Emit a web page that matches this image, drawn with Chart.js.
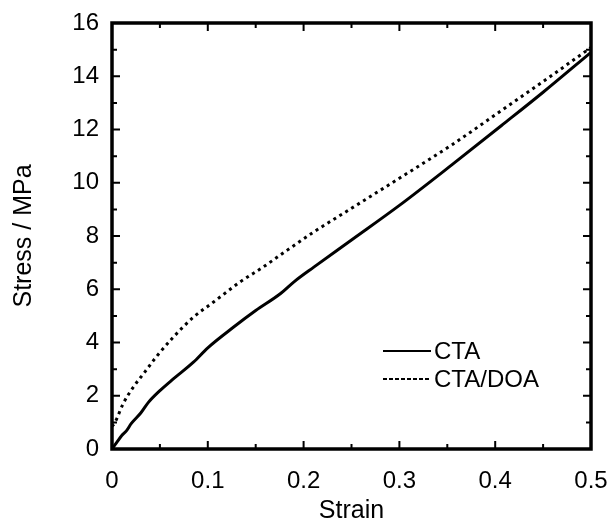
<!DOCTYPE html>
<html>
<head>
<meta charset="utf-8">
<script src="https://cdn.jsdelivr.net/npm/chart.js"></script>
<style>
  html, body { margin: 0; padding: 0; background: #fff; }
  #plot { display: block; }
</style>
</head>
<body>
<canvas id="plot" width="613" height="526"></canvas>
<script>
// stress-strain readings
var ctaStrain = [0, 0.005, 0.01, 0.015, 0.02, 0.03, 0.038, 0.05, 0.064, 0.085, 0.10, 0.127, 0.15, 0.176, 0.19, 0.211, 0.25, 0.30, 0.355, 0.408, 0.45, 0.5];
var ctaStress = [0, 0.25, 0.5, 0.68, 0.95, 1.35, 1.75, 2.19, 2.63, 3.26, 3.8, 4.58, 5.2, 5.84, 6.28, 6.84, 7.85, 9.15, 10.68, 12.19, 13.4, 14.9];

var doaStrain = [0, 0.003, 0.0115, 0.022, 0.034, 0.046, 0.064, 0.085, 0.106, 0.134, 0.158, 0.183, 0.211, 0.25, 0.30, 0.355, 0.408, 0.45, 0.5];
var doaStress = [0.85, 0.99, 1.69, 2.31, 2.88, 3.45, 4.2, 4.95, 5.52, 6.28, 6.84, 7.47, 8.16, 9.04, 10.17, 11.43, 12.75, 13.8, 15.08];

var seriesNames = ['CTA', 'CTA/DOA'];
var xTicks = [0, 0.1, 0.2, 0.3, 0.4, 0.5];
var yTicks = [0, 2, 4, 6, 8, 10, 12, 14, 16];

function toPoints(xs, ys) {
    return xs.map(function (v, i) { return { x: v, y: ys[i] }; });
}

var FONT = 'Liberation Sans, Arial, sans-serif';

// box frame, inward ticks on all four sides and the in-plot legend
var frameTicks = {
    id: 'frameTicks',
    afterDatasetsDraw: function (chart) {
        var ctx = chart.ctx;
        var a = chart.chartArea;
        var sx = chart.scales.x, sy = chart.scales.y;
        ctx.save();
        ctx.strokeStyle = '#000';
        ctx.lineWidth = 2;
        ctx.beginPath();

        function xTick(v, len) {
            var p = sx.getPixelForValue(v);
            ctx.moveTo(p, a.bottom); ctx.lineTo(p, a.bottom - len);
            ctx.moveTo(p, a.top); ctx.lineTo(p, a.top + len);
        }
        function yTick(v, len) {
            var p = sy.getPixelForValue(v);
            ctx.moveTo(a.left, p); ctx.lineTo(a.left + len, p);
            ctx.moveTo(a.right, p); ctx.lineTo(a.right - len, p);
        }
        xTicks.forEach(function (v, i) {
            xTick(v, 8);
            if (i > 0) xTick((v + xTicks[i - 1]) / 2, 5);
        });
        yTicks.forEach(function (v, i) {
            yTick(v, 8);
            if (i > 0) yTick((v + yTicks[i - 1]) / 2, 5);
        });
        ctx.stroke();

        ctx.lineWidth = 3.5;
        ctx.strokeRect(a.left, a.top, a.right - a.left, a.bottom - a.top);

        // legend
        var lx0 = 383, lx1 = 431, rows = [351, 379];
        ctx.font = '24px ' + FONT;
        ctx.fillStyle = '#000';
        ctx.textBaseline = 'middle';
        chart.data.datasets.forEach(function (ds, i) {
            ctx.beginPath();
            ctx.lineWidth = 2;
            ctx.setLineDash(i === 0 ? [] : [4, 2]);
            ctx.moveTo(lx0, rows[i]);
            ctx.lineTo(lx1, rows[i]);
            ctx.stroke();
            ctx.setLineDash([]);
            ctx.fillText(ds.label, 434, rows[i] + 1);
        });
        ctx.restore();
    }
};

var chart = new Chart(document.getElementById('plot').getContext('2d'), {
    type: 'line',
    data: {
        datasets: [{
            label: seriesNames[0],
            data: toPoints(ctaStrain, ctaStress),
            borderColor: '#000',
            borderWidth: 3,
            pointRadius: 0,
            cubicInterpolationMode: 'monotone'
        }, {
            label: seriesNames[1],
            data: toPoints(doaStrain, doaStress),
            borderColor: '#000',
            borderWidth: 3,
            borderDash: [3, 4],
            pointRadius: 0,
            cubicInterpolationMode: 'monotone'
        }]
    },
    options: {
        responsive: false,
        animation: false,
        layout: {
            padding: { top: 23, right: 22, bottom: 0, left: 0 }
        },
        plugins: {
            legend: { display: false },
            tooltip: { enabled: false }
        },
        scales: {
            x: {
                type: 'linear',
                min: 0,
                max: 0.5,
                grid: { display: false, drawTicks: false },
                border: { display: false },
                afterBuildTicks: function (scale) {
                    scale.ticks = xTicks.map(function (v) { return { value: v }; });
                },
                afterFit: function (scale) {
                    scale.height = 77;
                    scale.paddingLeft = 0;
                    scale.paddingRight = 0;
                },
                ticks: {
                    color: '#000',
                    padding: 18,
                    maxRotation: 0,
                    font: { family: FONT, size: 24 }
                },
                title: {
                    display: true,
                    text: 'Strain',
                    color: '#000',
                    padding: { top: 0, bottom: 0 },
                    font: { family: FONT, size: 25 }
                }
            },
            y: {
                type: 'linear',
                min: 0,
                max: 16,
                grid: { display: false, drawTicks: false },
                border: { display: false },
                afterBuildTicks: function (scale) {
                    scale.ticks = yTicks.map(function (v) { return { value: v }; });
                },
                afterFit: function (scale) {
                    scale.width = 112;
                    scale.paddingTop = 0;
                    scale.paddingBottom = 0;
                },
                ticks: {
                    color: '#000',
                    padding: 13,
                    font: { family: FONT, size: 24 }
                },
                title: {
                    display: true,
                    text: 'Stress / MPa',
                    color: '#000',
                    padding: { top: 9, bottom: 0 },
                    font: { family: FONT, size: 25 }
                }
            }
        }
    },
    plugins: [frameTicks]
});
</script>
</body>
</html>
